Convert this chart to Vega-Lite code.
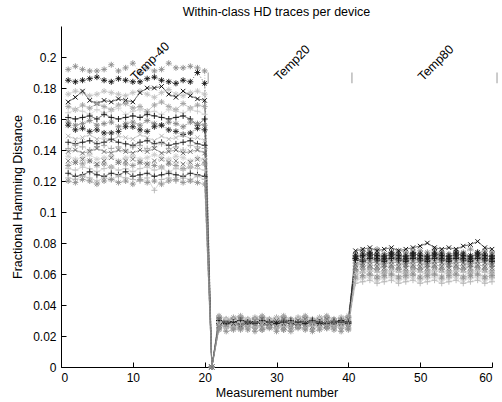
{
"$schema":"https://vega.github.io/schema/vega-lite/v6.json",
"width":431,"height":341,
"autosize":"none",
"padding":{"left":61,"top":26,"right":10,"bottom":35},
"background":"white",
"title":{"text":"Within-class HD traces per device","font":"Liberation Sans","fontSize":12.5,"fontWeight":"normal","color":"black","offset":8,"anchor":"middle"},
"config":{"view":{"stroke":null},"axis":{"grid":false,"domainColor":"black","tickColor":"black","labelColor":"black","titleColor":"black","labelFont":"Liberation Sans","titleFont":"Liberation Sans","labelFontSize":12,"titleFontSize":12.5,"titleFontWeight":"normal","tickSize":-5,"domainWidth":1,"tickWidth":1}},
"encoding":{
"x":{"field":"m","type":"quantitative","scale":{"domain":[0,60],"nice":false},"axis":{"title":"Measurement number","values":[0,10,20,30,40,50,60],"labelPadding":10,"titlePadding":3}},
"y":{"field":"hd","type":"quantitative","scale":{"domain":[0,0.22],"nice":false},"axis":{"title":"Fractional Hamming Distance","values":[0,0.02,0.04,0.06,0.08,0.1,0.12,0.14,0.16,0.18,0.2],"format":".2~f","labelPadding":10,"titlePadding":8}}
},
"layer":[
{"data":{"values":[
{"m":1,"a":0.192,"b":0.185,"c":0.176,"d":0.171,"e":0.168,"f":0.164,"g":0.161,"h":0.158,"i":0.156,"j":0.149,"k":0.145,"l":0.141,"m_":0.139,"n":0.136,"o":0.130,"p":0.128,"q":0.125,"r":0.122,"s":0.120,"t":0.133},
{"m":2,"a":0.194,"b":0.184,"c":0.178,"d":0.174,"e":0.166,"f":0.166,"g":0.160,"h":0.156,"i":0.153,"j":0.147,"k":0.144,"l":0.143,"m_":0.140,"n":0.134,"o":0.132,"p":0.127,"q":0.123,"r":0.121,"s":0.119,"t":0.132},
{"m":3,"a":0.192,"b":0.185,"c":0.177,"d":0.178,"e":0.169,"f":0.165,"g":0.161,"h":0.157,"i":0.154,"j":0.148,"k":0.145,"l":0.142,"m_":0.138,"n":0.135,"o":0.131,"p":0.129,"q":0.124,"r":0.123,"s":0.121,"t":0.134},
{"m":4,"a":0.191,"b":0.186,"c":0.175,"d":0.172,"e":0.167,"f":0.163,"g":0.162,"h":0.159,"i":0.152,"j":0.150,"k":0.146,"l":0.140,"m_":0.139,"n":0.137,"o":0.133,"p":0.128,"q":0.126,"r":0.122,"s":0.120,"t":0.133},
{"m":5,"a":0.191,"b":0.187,"c":0.176,"d":0.170,"e":0.170,"f":0.166,"g":0.160,"h":0.156,"i":0.153,"j":0.147,"k":0.144,"l":0.142,"m_":0.141,"n":0.134,"o":0.130,"p":0.126,"q":0.124,"r":0.120,"s":0.118,"t":0.131},
{"m":6,"a":0.192,"b":0.185,"c":0.178,"d":0.172,"e":0.168,"f":0.164,"g":0.163,"h":0.157,"i":0.151,"j":0.148,"k":0.145,"l":0.143,"m_":0.139,"n":0.135,"o":0.131,"p":0.128,"q":0.123,"r":0.122,"s":0.120,"t":0.133},
{"m":7,"a":0.195,"b":0.184,"c":0.177,"d":0.171,"e":0.166,"f":0.165,"g":0.161,"h":0.158,"i":0.151,"j":0.146,"k":0.147,"l":0.141,"m_":0.138,"n":0.136,"o":0.129,"p":0.129,"q":0.125,"r":0.121,"s":0.121,"t":0.135},
{"m":8,"a":0.191,"b":0.186,"c":0.176,"d":0.173,"e":0.169,"f":0.167,"g":0.160,"h":0.155,"i":0.152,"j":0.149,"k":0.145,"l":0.142,"m_":0.140,"n":0.133,"o":0.132,"p":0.127,"q":0.124,"r":0.123,"s":0.119,"t":0.132},
{"m":9,"a":0.193,"b":0.185,"c":0.175,"d":0.172,"e":0.170,"f":0.163,"g":0.161,"h":0.157,"i":0.155,"j":0.148,"k":0.144,"l":0.140,"m_":0.139,"n":0.135,"o":0.131,"p":0.128,"q":0.126,"r":0.122,"s":0.120,"t":0.133},
{"m":10,"a":0.196,"b":0.184,"c":0.177,"d":0.171,"e":0.167,"f":0.165,"g":0.162,"h":0.158,"i":0.155,"j":0.147,"k":0.143,"l":0.142,"m_":0.138,"n":0.136,"o":0.130,"p":0.126,"q":0.123,"r":0.121,"s":0.118,"t":0.134},
{"m":11,"a":0.190,"b":0.184,"c":0.178,"d":0.177,"e":0.168,"f":0.166,"g":0.161,"h":0.156,"i":0.153,"j":0.150,"k":0.145,"l":0.143,"m_":0.140,"n":0.134,"o":0.132,"p":0.128,"q":0.124,"r":0.120,"s":0.121,"t":0.132},
{"m":12,"a":0.193,"b":0.186,"c":0.176,"d":0.180,"e":0.165,"f":0.164,"g":0.163,"h":0.159,"i":0.152,"j":0.148,"k":0.146,"l":0.141,"m_":0.139,"n":0.135,"o":0.131,"p":0.129,"q":0.125,"r":0.122,"s":0.119,"t":0.131},
{"m":13,"a":0.191,"b":0.187,"c":0.174,"d":0.180,"e":0.169,"f":0.165,"g":0.162,"h":0.157,"i":0.155,"j":0.146,"k":0.144,"l":0.142,"m_":0.141,"n":0.137,"o":0.130,"p":0.127,"q":0.123,"r":0.114,"s":0.120,"t":0.133},
{"m":14,"a":0.192,"b":0.185,"c":0.177,"d":0.181,"e":0.171,"f":0.163,"g":0.161,"h":0.156,"i":0.156,"j":0.149,"k":0.145,"l":0.144,"m_":0.138,"n":0.135,"o":0.129,"p":0.128,"q":0.124,"r":0.121,"s":0.118,"t":0.134},
{"m":15,"a":0.196,"b":0.184,"c":0.179,"d":0.176,"e":0.168,"f":0.166,"g":0.160,"h":0.158,"i":0.153,"j":0.147,"k":0.143,"l":0.141,"m_":0.139,"n":0.134,"o":0.131,"p":0.126,"q":0.125,"r":0.122,"s":0.120,"t":0.132},
{"m":16,"a":0.193,"b":0.183,"c":0.176,"d":0.174,"e":0.166,"f":0.165,"g":0.161,"h":0.157,"i":0.152,"j":0.148,"k":0.144,"l":0.142,"m_":0.140,"n":0.136,"o":0.130,"p":0.128,"q":0.124,"r":0.120,"s":0.121,"t":0.133},
{"m":17,"a":0.193,"b":0.185,"c":0.175,"d":0.178,"e":0.170,"f":0.164,"g":0.162,"h":0.155,"i":0.150,"j":0.150,"k":0.145,"l":0.140,"m_":0.138,"n":0.135,"o":0.128,"p":0.127,"q":0.123,"r":0.122,"s":0.119,"t":0.131},
{"m":18,"a":0.194,"b":0.184,"c":0.177,"d":0.175,"e":0.167,"f":0.166,"g":0.160,"h":0.158,"i":0.151,"j":0.147,"k":0.146,"l":0.143,"m_":0.139,"n":0.133,"o":0.129,"p":0.129,"q":0.125,"r":0.121,"s":0.120,"t":0.132},
{"m":19,"a":0.193,"b":0.190,"c":0.178,"d":0.173,"e":0.169,"f":0.165,"g":0.156,"h":0.157,"i":0.154,"j":0.148,"k":0.144,"l":0.142,"m_":0.140,"n":0.135,"o":0.130,"p":0.128,"q":0.124,"r":0.123,"s":0.119,"t":0.134},
{"m":20,"a":0.191,"b":0.183,"c":0.176,"d":0.172,"e":0.168,"f":0.163,"g":0.160,"h":0.156,"i":0.153,"j":0.146,"k":0.143,"l":0.141,"m_":0.138,"n":0.134,"o":0.131,"p":0.127,"q":0.123,"r":0.121,"s":0.118,"t":0.133},
{"m":21,"a":0,"b":0,"c":0,"d":0,"e":0,"f":0,"g":0,"h":0,"i":0,"j":0,"k":0,"l":0,"m_":0,"n":0,"o":0,"p":0,"q":0,"r":0,"s":0,"t":0},
{"m":22,"a":0.032,"b":0.030,"c":0.029,"d":0.027,"e":0.033,"f":0.028,"g":0.030,"h":0.031,"i":0.027,"j":0.025,"k":0.028,"l":0.032,"m_":0.026,"n":0.029,"o":0.024,"p":0.029,"q":0.030,"r":0.027,"s":0.025,"t":0.031},
{"m":23,"a":0.030,"b":0.028,"c":0.031,"d":0.029,"e":0.031,"f":0.026,"g":0.028,"h":0.029,"i":0.029,"j":0.027,"k":0.030,"l":0.030,"m_":0.028,"n":0.031,"o":0.026,"p":0.027,"q":0.028,"r":0.025,"s":0.023,"t":0.029},
{"m":24,"a":0.031,"b":0.029,"c":0.030,"d":0.028,"e":0.032,"f":0.027,"g":0.029,"h":0.030,"i":0.028,"j":0.026,"k":0.029,"l":0.031,"m_":0.027,"n":0.030,"o":0.025,"p":0.028,"q":0.029,"r":0.026,"s":0.024,"t":0.030},
{"m":25,"a":0.032,"b":0.030,"c":0.031,"d":0.027,"e":0.033,"f":0.028,"g":0.028,"h":0.031,"i":0.027,"j":0.025,"k":0.030,"l":0.032,"m_":0.026,"n":0.029,"o":0.024,"p":0.029,"q":0.030,"r":0.027,"s":0.025,"t":0.031},
{"m":26,"a":0.030,"b":0.029,"c":0.029,"d":0.028,"e":0.031,"f":0.027,"g":0.030,"h":0.029,"i":0.028,"j":0.027,"k":0.028,"l":0.030,"m_":0.028,"n":0.031,"o":0.026,"p":0.027,"q":0.029,"r":0.025,"s":0.024,"t":0.029},
{"m":27,"a":0.031,"b":0.028,"c":0.030,"d":0.029,"e":0.032,"f":0.026,"g":0.029,"h":0.030,"i":0.029,"j":0.026,"k":0.029,"l":0.031,"m_":0.027,"n":0.030,"o":0.025,"p":0.028,"q":0.028,"r":0.026,"s":0.023,"t":0.030},
{"m":28,"a":0.032,"b":0.029,"c":0.031,"d":0.028,"e":0.033,"f":0.027,"g":0.028,"h":0.031,"i":0.028,"j":0.025,"k":0.030,"l":0.032,"m_":0.026,"n":0.029,"o":0.024,"p":0.029,"q":0.030,"r":0.027,"s":0.024,"t":0.031},
{"m":29,"a":0.030,"b":0.030,"c":0.030,"d":0.027,"e":0.031,"f":0.028,"g":0.029,"h":0.029,"i":0.027,"j":0.026,"k":0.029,"l":0.030,"m_":0.028,"n":0.030,"o":0.026,"p":0.028,"q":0.029,"r":0.026,"s":0.025,"t":0.029},
{"m":30,"a":0.031,"b":0.029,"c":0.029,"d":0.028,"e":0.032,"f":0.027,"g":0.030,"h":0.030,"i":0.028,"j":0.027,"k":0.028,"l":0.031,"m_":0.027,"n":0.031,"o":0.025,"p":0.027,"q":0.028,"r":0.025,"s":0.023,"t":0.030},
{"m":31,"a":0.032,"b":0.028,"c":0.031,"d":0.029,"e":0.033,"f":0.026,"g":0.029,"h":0.031,"i":0.029,"j":0.026,"k":0.030,"l":0.032,"m_":0.026,"n":0.029,"o":0.024,"p":0.028,"q":0.029,"r":0.026,"s":0.024,"t":0.031},
{"m":32,"a":0.030,"b":0.029,"c":0.030,"d":0.028,"e":0.031,"f":0.027,"g":0.028,"h":0.029,"i":0.028,"j":0.025,"k":0.029,"l":0.030,"m_":0.027,"n":0.030,"o":0.025,"p":0.029,"q":0.030,"r":0.027,"s":0.023,"t":0.029},
{"m":33,"a":0.031,"b":0.030,"c":0.031,"d":0.027,"e":0.032,"f":0.028,"g":0.029,"h":0.030,"i":0.027,"j":0.026,"k":0.028,"l":0.031,"m_":0.028,"n":0.031,"o":0.026,"p":0.028,"q":0.029,"r":0.026,"s":0.025,"t":0.030},
{"m":34,"a":0.032,"b":0.029,"c":0.029,"d":0.028,"e":0.033,"f":0.027,"g":0.030,"h":0.031,"i":0.028,"j":0.027,"k":0.029,"l":0.032,"m_":0.027,"n":0.030,"o":0.025,"p":0.027,"q":0.028,"r":0.025,"s":0.024,"t":0.031},
{"m":35,"a":0.030,"b":0.028,"c":0.030,"d":0.029,"e":0.031,"f":0.026,"g":0.029,"h":0.029,"i":0.029,"j":0.026,"k":0.030,"l":0.030,"m_":0.026,"n":0.029,"o":0.024,"p":0.028,"q":0.030,"r":0.027,"s":0.023,"t":0.029},
{"m":36,"a":0.031,"b":0.029,"c":0.031,"d":0.028,"e":0.032,"f":0.027,"g":0.028,"h":0.030,"i":0.028,"j":0.025,"k":0.029,"l":0.031,"m_":0.028,"n":0.031,"o":0.026,"p":0.029,"q":0.029,"r":0.026,"s":0.024,"t":0.030},
{"m":37,"a":0.032,"b":0.030,"c":0.030,"d":0.027,"e":0.033,"f":0.028,"g":0.029,"h":0.031,"i":0.027,"j":0.026,"k":0.028,"l":0.032,"m_":0.027,"n":0.030,"o":0.025,"p":0.028,"q":0.028,"r":0.027,"s":0.025,"t":0.031},
{"m":38,"a":0.030,"b":0.029,"c":0.029,"d":0.028,"e":0.031,"f":0.027,"g":0.030,"h":0.029,"i":0.028,"j":0.027,"k":0.029,"l":0.030,"m_":0.026,"n":0.029,"o":0.026,"p":0.027,"q":0.029,"r":0.025,"s":0.024,"t":0.029},
{"m":39,"a":0.031,"b":0.028,"c":0.031,"d":0.029,"e":0.032,"f":0.026,"g":0.029,"h":0.030,"i":0.029,"j":0.026,"k":0.030,"l":0.031,"m_":0.028,"n":0.031,"o":0.025,"p":0.028,"q":0.030,"r":0.026,"s":0.023,"t":0.030},
{"m":40,"a":0.032,"b":0.029,"c":0.030,"d":0.028,"e":0.033,"f":0.027,"g":0.028,"h":0.031,"i":0.028,"j":0.025,"k":0.029,"l":0.032,"m_":0.027,"n":0.030,"o":0.024,"p":0.029,"q":0.029,"r":0.027,"s":0.025,"t":0.031},
{"m":41,"a":0.073,"b":0.070,"c":0.065,"d":0.075,"e":0.067,"f":0.059,"g":0.069,"h":0.063,"i":0.072,"j":0.061,"k":0.070,"l":0.057,"m_":0.066,"n":0.056,"o":0.062,"p":0.060,"q":0.071,"r":0.054,"s":0.058,"t":0.064},
{"m":42,"a":0.075,"b":0.071,"c":0.067,"d":0.076,"e":0.068,"f":0.061,"g":0.068,"h":0.065,"i":0.073,"j":0.062,"k":0.069,"l":0.058,"m_":0.067,"n":0.057,"o":0.063,"p":0.061,"q":0.072,"r":0.055,"s":0.059,"t":0.065},
{"m":43,"a":0.074,"b":0.072,"c":0.066,"d":0.077,"e":0.069,"f":0.060,"g":0.070,"h":0.064,"i":0.074,"j":0.063,"k":0.071,"l":0.059,"m_":0.068,"n":0.058,"o":0.064,"p":0.062,"q":0.073,"r":0.056,"s":0.060,"t":0.066},
{"m":44,"a":0.076,"b":0.071,"c":0.065,"d":0.075,"e":0.068,"f":0.059,"g":0.069,"h":0.063,"i":0.073,"j":0.062,"k":0.070,"l":0.057,"m_":0.067,"n":0.056,"o":0.063,"p":0.061,"q":0.072,"r":0.054,"s":0.058,"t":0.065},
{"m":45,"a":0.073,"b":0.070,"c":0.067,"d":0.076,"e":0.067,"f":0.061,"g":0.068,"h":0.065,"i":0.072,"j":0.061,"k":0.069,"l":0.058,"m_":0.066,"n":0.057,"o":0.062,"p":0.060,"q":0.071,"r":0.055,"s":0.059,"t":0.064},
{"m":46,"a":0.074,"b":0.072,"c":0.066,"d":0.077,"e":0.069,"f":0.060,"g":0.070,"h":0.064,"i":0.074,"j":0.063,"k":0.071,"l":0.059,"m_":0.068,"n":0.058,"o":0.064,"p":0.062,"q":0.073,"r":0.056,"s":0.060,"t":0.066},
{"m":47,"a":0.075,"b":0.071,"c":0.065,"d":0.075,"e":0.068,"f":0.059,"g":0.069,"h":0.063,"i":0.073,"j":0.062,"k":0.070,"l":0.057,"m_":0.067,"n":0.056,"o":0.063,"p":0.061,"q":0.072,"r":0.054,"s":0.058,"t":0.065},
{"m":48,"a":0.074,"b":0.070,"c":0.067,"d":0.076,"e":0.067,"f":0.061,"g":0.068,"h":0.065,"i":0.072,"j":0.061,"k":0.069,"l":0.058,"m_":0.066,"n":0.057,"o":0.062,"p":0.060,"q":0.071,"r":0.055,"s":0.059,"t":0.064},
{"m":49,"a":0.073,"b":0.072,"c":0.066,"d":0.077,"e":0.069,"f":0.060,"g":0.070,"h":0.064,"i":0.074,"j":0.063,"k":0.071,"l":0.059,"m_":0.068,"n":0.058,"o":0.064,"p":0.062,"q":0.073,"r":0.056,"s":0.060,"t":0.066},
{"m":50,"a":0.075,"b":0.071,"c":0.065,"d":0.078,"e":0.068,"f":0.059,"g":0.069,"h":0.063,"i":0.073,"j":0.062,"k":0.070,"l":0.057,"m_":0.067,"n":0.056,"o":0.063,"p":0.061,"q":0.072,"r":0.054,"s":0.058,"t":0.065},
{"m":51,"a":0.074,"b":0.070,"c":0.067,"d":0.080,"e":0.067,"f":0.061,"g":0.068,"h":0.065,"i":0.072,"j":0.061,"k":0.069,"l":0.058,"m_":0.066,"n":0.057,"o":0.062,"p":0.060,"q":0.071,"r":0.055,"s":0.059,"t":0.064},
{"m":52,"a":0.076,"b":0.072,"c":0.066,"d":0.077,"e":0.069,"f":0.060,"g":0.070,"h":0.064,"i":0.074,"j":0.063,"k":0.071,"l":0.059,"m_":0.068,"n":0.058,"o":0.064,"p":0.062,"q":0.073,"r":0.056,"s":0.060,"t":0.066},
{"m":53,"a":0.074,"b":0.071,"c":0.065,"d":0.076,"e":0.068,"f":0.059,"g":0.069,"h":0.063,"i":0.073,"j":0.062,"k":0.070,"l":0.057,"m_":0.067,"n":0.056,"o":0.063,"p":0.061,"q":0.072,"r":0.054,"s":0.058,"t":0.065},
{"m":54,"a":0.073,"b":0.070,"c":0.067,"d":0.077,"e":0.067,"f":0.061,"g":0.068,"h":0.065,"i":0.072,"j":0.061,"k":0.069,"l":0.058,"m_":0.066,"n":0.057,"o":0.062,"p":0.060,"q":0.071,"r":0.055,"s":0.059,"t":0.064},
{"m":55,"a":0.075,"b":0.072,"c":0.066,"d":0.076,"e":0.069,"f":0.060,"g":0.070,"h":0.064,"i":0.074,"j":0.063,"k":0.071,"l":0.059,"m_":0.068,"n":0.058,"o":0.064,"p":0.062,"q":0.073,"r":0.056,"s":0.060,"t":0.066},
{"m":56,"a":0.074,"b":0.071,"c":0.065,"d":0.078,"e":0.068,"f":0.059,"g":0.069,"h":0.063,"i":0.073,"j":0.062,"k":0.070,"l":0.057,"m_":0.067,"n":0.056,"o":0.063,"p":0.061,"q":0.072,"r":0.054,"s":0.058,"t":0.065},
{"m":57,"a":0.076,"b":0.070,"c":0.067,"d":0.079,"e":0.067,"f":0.061,"g":0.068,"h":0.065,"i":0.072,"j":0.061,"k":0.069,"l":0.058,"m_":0.066,"n":0.057,"o":0.062,"p":0.060,"q":0.071,"r":0.055,"s":0.059,"t":0.064},
{"m":58,"a":0.074,"b":0.072,"c":0.066,"d":0.081,"e":0.069,"f":0.060,"g":0.070,"h":0.064,"i":0.074,"j":0.063,"k":0.071,"l":0.059,"m_":0.068,"n":0.058,"o":0.064,"p":0.062,"q":0.073,"r":0.056,"s":0.060,"t":0.066},
{"m":59,"a":0.075,"b":0.071,"c":0.065,"d":0.077,"e":0.068,"f":0.059,"g":0.069,"h":0.063,"i":0.073,"j":0.062,"k":0.070,"l":0.057,"m_":0.067,"n":0.056,"o":0.063,"p":0.061,"q":0.072,"r":0.054,"s":0.058,"t":0.065},
{"m":60,"a":0.074,"b":0.070,"c":0.067,"d":0.076,"e":0.067,"f":0.061,"g":0.068,"h":0.065,"i":0.072,"j":0.061,"k":0.069,"l":0.058,"m_":0.066,"n":0.057,"o":0.062,"p":0.060,"q":0.071,"r":0.055,"s":0.059,"t":0.064}
]},
"transform":[{"fold":["a","b","c","d","e","f","g","h","i","j","k","l","m_","n","o","p","q","r","s","t"],"as":["dev","hd"]}],
"encoding":{
"color":{"field":"dev","type":"nominal","legend":null,"scale":{"domain":["a","b","c","d","e","f","g","h","i","j","k","l","m_","n","o","p","q","r","s","t"],"range":["#8c8c8c","#111111","#c0c0c0","#000000","#a0a0a0","#cccccc","#111111","#808080","#222222","#b0b0b0","#202020","#a0a0a0","#606060","#cccccc","#909090","#c0c0c0","#1a1a1a","#b4b4b4","#909090","#707070"]}}
},
"layer":[
{"mark":{"type":"line","strokeWidth":0.6},
 "encoding":{"strokeDash":{"field":"dev","type":"nominal","legend":null,"scale":{"domain":["a","b","c","d","e","f","g","h","i","j","k","l","m_","n","o","p","q","r","s","t"],"range":[[1,2],[1,2],[1,0],[1,0],[1,0],[1,0],[1,0],[4,2,1,2],[1,2],[1,0],[1,0],[1,2],[1,0],[1,0],[1,2],[1,0],[1,0],[1,0],[4,2],[1,2]]}}}},
{"mark":{"type":"point","filled":false,"strokeWidth":0.9,"size":36,"opacity":1},
 "encoding":{"shape":{"field":"dev","type":"nominal","legend":null,"scale":{"domain":["a","b","c","d","e","f","g","h","i","j","k","l","m_","n","o","p","q","r","s","t"],"range":[
 "M-1,0L1,0M0,-1L0,1M-0.7,-0.7L0.7,0.7M-0.7,0.7L0.7,-0.7",
 "M-1,0L1,0M0,-1L0,1M-0.7,-0.7L0.7,0.7M-0.7,0.7L0.7,-0.7",
 "M-1,0L1,0M0,-1L0,1M-0.7,-0.7L0.7,0.7M-0.7,0.7L0.7,-0.7",
 "M-0.75,-0.75L0.75,0.75M-0.75,0.75L0.75,-0.75",
 "M-1,0L1,0M0,-1L0,1M-0.7,-0.7L0.7,0.7M-0.7,0.7L0.7,-0.7",
 "M-1,0L1,0M0,-1L0,1",
 "M-1,0L1,0M0,-1L0,1",
 "M-1,0L1,0M0,-1L0,1M-0.7,-0.7L0.7,0.7M-0.7,0.7L0.7,-0.7",
 "M-1,0L1,0M0,-1L0,1M-0.7,-0.7L0.7,0.7M-0.7,0.7L0.7,-0.7",
 "M-0.75,-0.75L0.75,0.75M-0.75,0.75L0.75,-0.75",
 "M-1,0L1,0M0,-1L0,1",
 "M-1,0L1,0M0,-1L0,1",
 "M-0.75,-0.75L0.75,0.75M-0.75,0.75L0.75,-0.75",
 "M-1,0L1,0M0,-1L0,1M-0.7,-0.7L0.7,0.7M-0.7,0.7L0.7,-0.7",
 "M-1,0L1,0M0,-1L0,1M-0.7,-0.7L0.7,0.7M-0.7,0.7L0.7,-0.7",
 "M-1,0L1,0M0,-1L0,1",
 "M-1,0L1,0M0,-1L0,1",
 "M-1,0L1,0M0,-1L0,1",
 "M-1,0L1,0M0,-1L0,1M-0.7,-0.7L0.7,0.7M-0.7,0.7L0.7,-0.7",
 "M-0.75,-0.75L0.75,0.75M-0.75,0.75L0.75,-0.75"]}}}}
]},
{"data":{"values":[{"m":20.5,"hd":0.183,"hd2":0.19},{"m":40.5,"hd":0.183,"hd2":0.19},{"m":60.7,"hd":0.183,"hd2":0.19}]},
 "mark":{"type":"rule","color":"#bbbbbb","strokeWidth":1.5},
 "encoding":{"y2":{"field":"hd2"}}},
{"data":{"values":[{"m":10,"hd":0.186,"label":"Temp-40"},{"m":30,"hd":0.186,"label":"Temp20"},{"m":50,"hd":0.186,"label":"Temp80"}]},
 "mark":{"type":"text","angle":-45,"align":"left","baseline":"middle","font":"Liberation Sans","fontSize":12.5,"color":"black"},
 "encoding":{"text":{"field":"label"}}}
]
}
